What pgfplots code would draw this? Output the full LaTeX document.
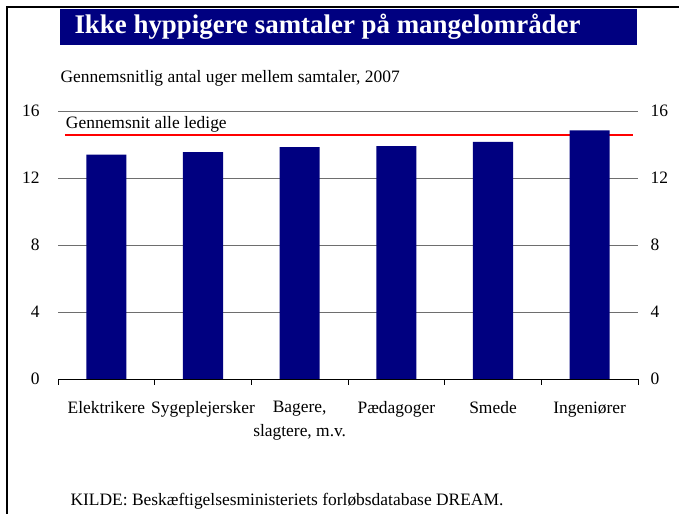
\documentclass[border=0pt]{standalone}
\usepackage{pgfplots}
\pgfplotsset{compat=1.18}
\usepackage{fontspec}
\setmainfont{Liberation Serif}
\definecolor{navy}{RGB}{0,0,128}
\definecolor{gridgray}{RGB}{110,110,110}
\definecolor{avgred}{RGB}{255,0,0}
\begin{document}
\begin{tikzpicture}[x=1bp,y=1bp]
\path[use as bounding box] (0,0) rectangle (679,514);
\draw[black, line width=2.2bp] (7,0) -- (7,507) -- (679,507);
\fill[navy] (60,469) rectangle (637,505);
\node[anchor=west, text=white, font=\fontsize{27}{30}\selectfont\bfseries] at (71,487) {Ikke hyppigere samtaler på mangelområder};
\node[anchor=west, font=\fontsize{17.5}{20}\selectfont] at (57,436) {Gennemsnitlig antal uger mellem samtaler, 2007};
\node[anchor=west, font=\fontsize{17.5}{20}\selectfont] at (67,13) {KILDE: Beskæftigelsesministeriets forløbsdatabase DREAM.};
\begin{axis}[
  at={(58bp,135bp)}, anchor=south west,
  scale only axis, width=580bp, height=268bp,
  xmin=-0.5, xmax=5.5, ymin=0, ymax=16,
  axis x line*=bottom, axis y line*=left,
  y axis line style={draw=none},
  x axis line style={black, line width=0.6bp},
  ytick={0,4,8,12,16}, 
  ymajorgrids, grid style={gridgray, line width=0.8bp},
  major y tick style={draw=none},
  xtick={-0.5,0.5,1.5,2.5,3.5,4.5,5.5},
  xticklabels={},
  major tick length=6bp, tick align=outside,
  major x tick style={black, line width=0.6bp},
  extra x ticks={0,1,2,3,4,5},
  extra x tick labels={Elektrikere, Sygeplejersker, {Bagere,\\slagtere, m.v.}, Pædagoger, Smede, Ingeniører},
  extra x tick style={major tick length=0pt, grid=none,
    xticklabel style={align=center, font=\fontsize{17.5}{24}\selectfont, yshift=-19bp}},
  yticklabel style={font=\fontsize{17.5}{20}\selectfont, xshift=-9bp},
  /pgf/number format/assume math mode=true,
  clip=false,
]
\addplot[draw=avgred, line width=1.6bp, mark=none] coordinates {(-0.43,14.55) (5.45,14.55)};
\addplot[ybar, bar width=0.415, fill=navy, draw=none] coordinates {(0,13.4) (1,13.55) (2,13.85) (3,13.9) (4,14.15) (5,14.85)};
\node[anchor=south west, font=\fontsize{17.5}{20}\selectfont, inner sep=1bp] at (axis cs:-0.43,14.64) {Gennemsnit alle ledige};
\end{axis}
\begin{axis}[
  at={(58bp,135bp)}, anchor=south west,
  scale only axis, width=580bp, height=268bp,
  xmin=-0.5, xmax=5.5, ymin=0, ymax=16,
  axis x line=none, axis y line*=right,
  y axis line style={draw=none},
  ytick={0,4,8,12,16},
  major y tick style={draw=none},
  yticklabel style={font=\fontsize{17.5}{20}\selectfont, xshift=9bp},
  /pgf/number format/assume math mode=true,
]
\addplot[draw=none] coordinates {(0,0)};
\end{axis}
\end{tikzpicture}
\end{document}
